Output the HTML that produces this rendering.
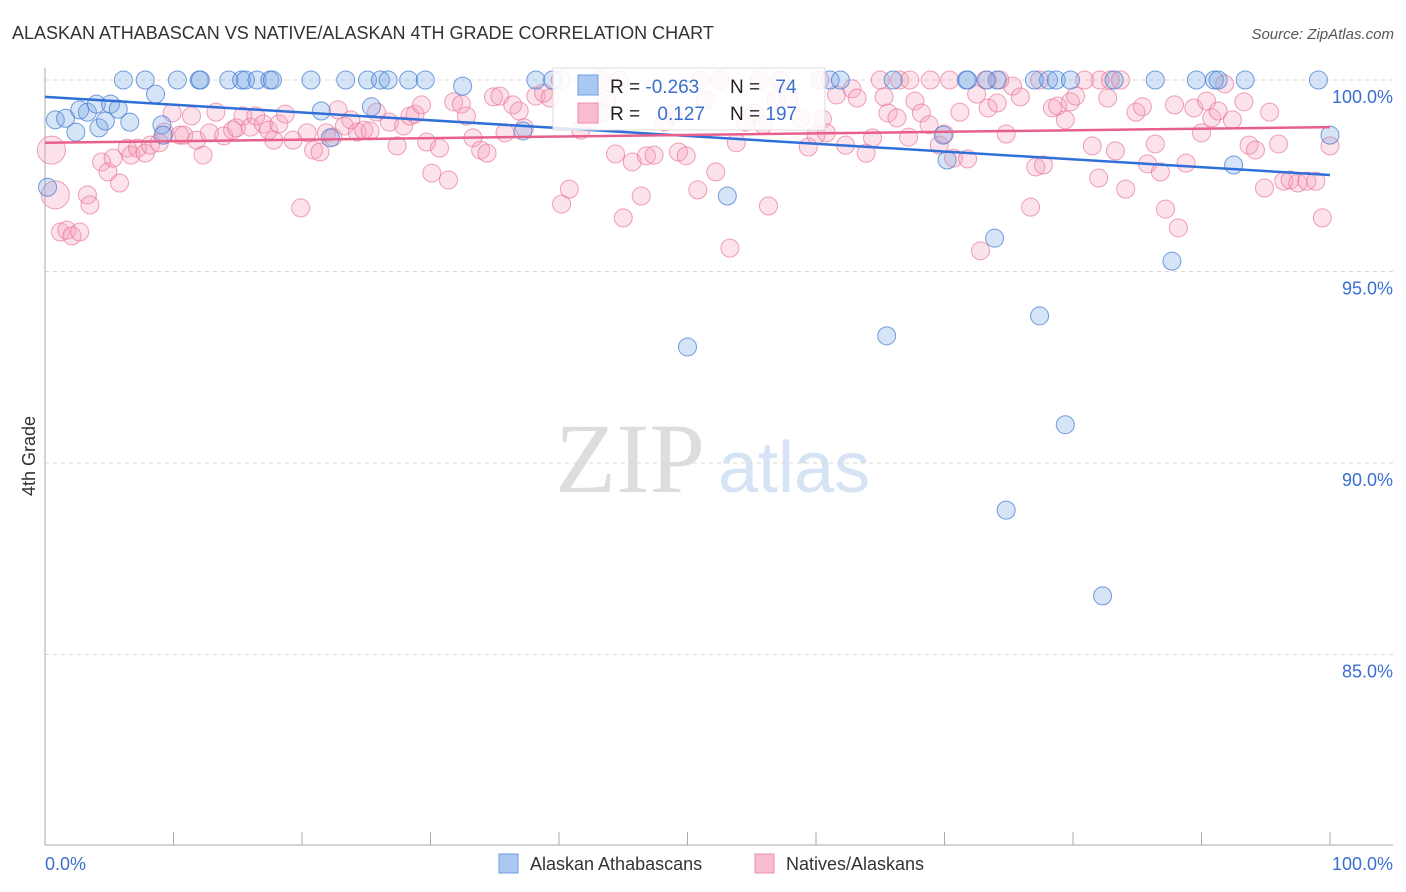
<!DOCTYPE html>
<html><head><meta charset="utf-8"><style>
body{margin:0;background:#fff;font-family:"Liberation Sans",sans-serif;}
svg{display:block}
</style></head><body>
<svg id="chart" width="1406" height="892">
<text x="12" y="39" font-size="18" fill="#333">ALASKAN ATHABASCAN VS NATIVE/ALASKAN 4TH GRADE CORRELATION CHART</text>
<text x="1394" y="39" font-size="15" fill="#555" text-anchor="end" font-style="italic">Source: ZipAtlas.com</text>
<text x="35" y="456" font-size="18" fill="#333" text-anchor="middle" transform="rotate(-90 35 456)">4th Grade</text>
<g>
<text x="555" y="492" font-size="100" fill="#ddd" font-family="Liberation Serif,serif">ZIP</text>
<text x="718" y="492" font-size="72" fill="#d6e3f5">atlas</text>
</g>
<g id="grid"></g><g id="axes"></g><g id="pinkPts"></g><g id="bluePts"></g><g id="lines"></g>
<g>
<rect x="553" y="68" width="272" height="62" fill="#fff" fill-opacity="0.85" stroke="#ddd"/>
<rect x="578" y="75" width="20" height="20" fill="#aac8f0" stroke="#6f9ee0"/>
<rect x="578" y="103" width="20" height="20" fill="#f7bccd" stroke="#ec8fab"/>
<text x="610" y="93" font-size="19" fill="#222">R = <tspan fill="#3a6fd0">-0.263</tspan></text>
<text x="730" y="93" font-size="19" fill="#222">N = <tspan fill="#3a6fd0" dx="10">74</tspan></text>
<text x="610" y="120" font-size="19" fill="#222">R = <tspan fill="#3a6fd0" dx="12">0.127</tspan></text>
<text x="730" y="120" font-size="19" fill="#222">N = <tspan fill="#3a6fd0">197</tspan></text>
</g>
<g>
<rect x="499" y="854" width="19" height="19" fill="#aac8f0" stroke="#6f9ee0"/>
<text x="530" y="870" font-size="18" fill="#333">Alaskan Athabascans</text>
<rect x="755" y="854" width="19" height="19" fill="#f7bccd" stroke="#ec8fab"/>
<text x="786" y="870" font-size="18" fill="#333">Natives/Alaskans</text>
</g>
</svg>
<script>
const yTicks=[100,95,90,85];
const yTickLabels=["100.0%","95.0%","90.0%","85.0%"];
const xTickLabels=["0.0%","100.0%"];
const blueX=[6.1,7.8,10.3,12.0,12.1,14.3,15.3,15.6,16.5,17.5,17.7,20.7,23.4,25.1,26.1,26.7,28.3,29.6,38.2,39.5,61.1,61.9,66.0,71.7,71.8,73.3,74.1,77.0,78.1,78.7,79.8,83.2,86.4,89.6,91.0,91.3,93.4,99.1,
0.2,0.8,1.6,2.4,2.7,3.3,4.0,4.2,4.7,5.1,5.7,6.6,8.6,9.1,9.2,21.5,22.2,25.4,32.5,37.2,53.1,50.0,65.5,70.2,69.9,73.9,77.4,79.4,74.8,82.3,87.7,92.5,100];
const blueY=[100,100,100,100,100,100,100,100,100,100,100,100,100,100,100,100,100,100,100,100,100,100,100,100,100,100,100,100,100,100,100,100,100,100,100,100,100,100,
97.2,98.96,99.0,98.64,99.22,99.16,99.37,98.75,98.93,99.37,99.24,98.9,99.63,98.83,98.56,99.19,98.49,99.3,99.84,98.67,96.97,93.03,93.32,97.91,98.56,95.87,93.84,91.0,88.77,86.53,95.27,97.78,98.56];
const pinkX=[0.5,0.8,1.2,1.7,2.1,2.7,3.3,3.5,4.4,4.9,5.3,5.8,6.4,6.7,7.2,7.8,8.2,8.9,9.3,9.9,10.5,10.8,11.4,11.8,12.3,12.8,13.3,13.9,14.6,14.9,15.4,16.0,16.4,17.0,17.4,17.8,18.2,18.7,19.3,19.9,20.4,20.9,21.4,21.9,22.4,22.8,23.3,23.8,24.3,24.8,25.3,25.8,26.8,27.4,27.9,28.4,28.8,29.3,29.7,30.1,30.7,31.4,31.8,32.4,32.8,33.3,33.9,34.4,34.9,35.4,35.8,36.4,36.9,37.3,38.2,38.8,39.3,40.2,40.8,41.7,42.4,43.3,43.7,44.4,45.0,45.7,46.4,46.8,47.4,48.2,48.9,49.3,49.9,50.8,51.4,52.2,53.3,53.8,54.5,55.2,55.9,56.3,56.9,57.9,58.8,59.4,60.0,60.5,60.8,61.6,62.3,62.8,63.2,63.9,64.4,65.3,65.6,66.3,67.2,67.7,68.2,68.8,69.6,70.0,70.7,71.2,71.8,72.5,72.8,73.4,74.1,74.8,75.3,75.9,76.7,77.1,77.7,78.4,78.8,79.4,79.8,80.2,80.9,81.5,82.0,82.7,83.3,84.1,84.9,85.4,85.8,86.4,86.8,87.2,87.9,88.2,88.8,89.4,90.0,90.4,90.8,91.3,91.8,92.4,93.3,93.7,94.2,94.9,95.3,96.0,96.4,96.9,97.5,98.2,98.9,99.4,100,
40.1,43.2,44.7,51.0,52.5,55.6,57.2,60.3,65.0,66.5,67.3,68.9,70.4,73.2,74.3,77.4,82.1,82.9,83.7];
const pinkY=[98.17,97.0,96.03,96.08,95.93,96.03,97.0,96.74,97.86,97.6,97.96,97.31,98.22,98.04,98.22,98.09,98.3,98.36,98.64,99.14,98.56,98.56,99.06,98.43,98.04,98.62,99.16,98.54,98.69,98.75,99.06,98.77,99.06,98.85,98.69,98.43,98.85,99.11,98.43,96.66,98.62,98.17,98.12,98.62,98.51,99.22,98.8,98.96,98.64,98.69,98.67,99.16,98.9,98.28,98.8,99.06,99.11,99.35,98.38,97.57,98.22,97.39,99.43,99.37,99.06,98.49,98.17,98.09,99.56,99.58,98.62,99.35,99.19,98.75,99.58,99.66,99.53,96.76,97.15,98.69,98.96,99.14,99.48,98.07,96.4,97.86,96.97,98.02,98.04,98.9,99.11,98.12,98.02,97.13,99.48,97.6,95.61,98.36,98.9,99.14,98.83,96.71,99.48,99.53,99.01,98.25,98.56,98.98,98.62,99.61,98.3,99.77,99.53,98.09,98.49,99.56,99.14,99.01,98.51,99.45,99.14,98.83,98.3,98.59,97.96,99.16,97.94,99.63,95.54,99.27,99.4,98.59,99.84,99.56,96.68,97.73,97.78,99.27,99.32,98.96,99.43,99.58,100,98.28,97.44,99.53,98.15,97.15,99.16,99.3,97.81,98.33,97.6,96.63,99.35,96.14,97.83,99.27,98.62,99.45,99.01,99.19,99.9,98.96,99.43,98.3,98.17,97.18,99.16,98.33,97.36,97.39,97.31,97.36,97.36,96.4,98.28,
100,100,100,100,100,100,100,100,100,100,100,100,100,100,100,100,100,100,100];
const blueTrend=[99.56,97.52]; // value at 0% and 100%
const pinkTrend=[98.36,98.77];

const NS="http://www.w3.org/2000/svg";
const X0=45,X1=1330,Y100=80,PXPER=38.3;
function sx(p){return X0+(X1-X0)*p/100;}
function sy(v){return Y100+(100-v)*PXPER;}
function mk(tag,attrs,parent){const e=document.createElementNS(NS,tag);for(const k in attrs)e.setAttribute(k,attrs[k]);parent.appendChild(e);return e;}
const grid=document.getElementById('grid');
yTicks.forEach((t,i)=>{
  const l=mk('line',{x1:X0,x2:1393,y1:sy(t),y2:sy(t),stroke:'#d8d8d8','stroke-dasharray':'4,4'},grid);
  
  
  const tx=mk('text',{x:1393,y:sy(t)+23,'font-size':18,fill:'#3a6fd0','text-anchor':'end'},grid);
  tx.textContent=yTickLabels[i];
  
  
});
const axes=document.getElementById('axes');
const ya=mk('line',{x1:X0,x2:X0,y1:68,y2:845,stroke:'#aaa'},axes);


const xa=mk('line',{x1:X0,x2:1393,y1:845,y2:845,stroke:'#aaa'},axes);


for(let i=0;i<=10;i++){
  const t=mk('line',{x1:sx(i*10),x2:sx(i*10),y1:832,y2:845,stroke:'#aaa'},axes);
  
  
}
const xl0=mk('text',{x:45,y:870,'font-size':18,fill:'#3a6fd0'},axes);
xl0.textContent=xTickLabels[0];


const xl1=mk('text',{x:1393,y:870,'font-size':18,fill:'#3a6fd0','text-anchor':'end'},axes);
xl1.textContent=xTickLabels[1];



const pg=document.getElementById('pinkPts');
pinkX.forEach((p,i)=>{
  const r=i<2?14:9;
  const c=mk('circle',{cx:sx(p),cy:sy(pinkY[i]),r:r,fill:'rgba(244,160,185,0.3)',stroke:'rgba(232,110,148,0.65)','stroke-width':1},pg);
  
  
});
const bg=document.getElementById('bluePts');
blueX.forEach((p,i)=>{
  const c=mk('circle',{cx:sx(p),cy:sy(blueY[i]),r:9,fill:'rgba(120,165,230,0.3)',stroke:'rgba(70,125,210,0.75)','stroke-width':1},bg);
  
  
});
const lg=document.getElementById('lines');
const bl=mk('line',{x1:sx(0),y1:sy(blueTrend[0]),x2:sx(100),y2:sy(blueTrend[1]),stroke:'#2f6fd6','stroke-width':2.5},lg);


const pl=mk('line',{x1:sx(0),y1:sy(pinkTrend[0]),x2:sx(100),y2:sy(pinkTrend[1]),stroke:'#e8608a','stroke-width':2.5},lg);


</script>
</body></html>
